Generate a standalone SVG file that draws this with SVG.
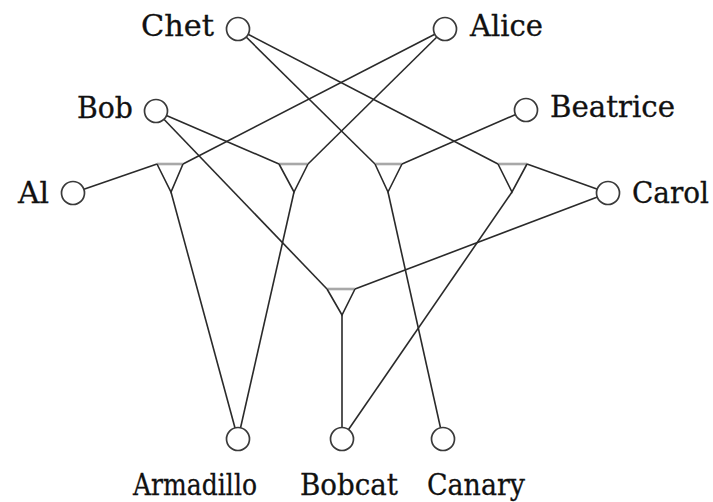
<svg xmlns="http://www.w3.org/2000/svg" width="713" height="502" viewBox="0 0 713 502">
<style>
.e{stroke:#2a2a2a;stroke-width:1.6;fill:none}
.n{stroke:#3a3a3a;stroke-width:1.7;fill:#fff}
.g{stroke:#2a2a2a;stroke-width:1.6;fill:none;stroke-linejoin:miter}
.gt{stroke:#a8a8a8;stroke-width:2.6}
text{font-family:"DejaVu Serif","Liberation Serif",serif;font-size:29px;fill:#111;stroke:#111;stroke-width:0.3}
</style>
<rect width="713" height="502" fill="#fff"/>
<g id="connectors">
<line class="e" x1="73" y1="193" x2="157" y2="164"/>
<line class="e" x1="445" y1="29" x2="183" y2="164"/>
<line class="e" x1="445" y1="29" x2="308" y2="164"/>
<line class="e" x1="156" y1="111" x2="279" y2="164"/>
<line class="e" x1="156" y1="111" x2="327" y2="289"/>
<line class="e" x1="238" y1="29" x2="375" y2="164"/>
<line class="e" x1="238" y1="29" x2="498" y2="164"/>
<line class="e" x1="526" y1="110" x2="402" y2="164"/>
<line class="e" x1="608" y1="193" x2="527" y2="164"/>
<line class="e" x1="608" y1="193" x2="355" y2="289"/>
<line class="e" x1="171" y1="192" x2="238" y2="439"/>
<line class="e" x1="294" y1="192" x2="238" y2="439"/>
<line class="e" x1="388" y1="192" x2="443" y2="439"/>
<line class="e" x1="512" y1="192" x2="342" y2="439"/>
<line class="e" x1="342" y1="315" x2="342" y2="439"/>
</g>
<g id="gate1"><line class="gt" x1="157" y1="164" x2="183" y2="164"/><polyline class="g" points="157,164 171,192 183,164"/></g>
<g id="gate2"><line class="gt" x1="279" y1="164" x2="308" y2="164"/><polyline class="g" points="279,164 294,192 308,164"/></g>
<g id="gate3"><line class="gt" x1="375" y1="164" x2="402" y2="164"/><polyline class="g" points="375,164 388,192 402,164"/></g>
<g id="gate4"><line class="gt" x1="498" y1="164" x2="527" y2="164"/><polyline class="g" points="498,164 512,192 527,164"/></g>
<g id="gate5"><line class="gt" x1="327" y1="289" x2="355" y2="289"/><polyline class="g" points="327,289 342,315 355,289"/></g>
<g id="chet"><circle class="n" cx="238" cy="29" r="11.5"/><text x="214" y="36" text-anchor="end" textLength="73" lengthAdjust="spacingAndGlyphs">Chet</text></g>
<g id="alice"><circle class="n" cx="445" cy="29" r="11.5"/><text x="470" y="36" textLength="73" lengthAdjust="spacingAndGlyphs">Alice</text></g>
<g id="bob"><circle class="n" cx="156" cy="111" r="11.5"/><text x="133" y="118" text-anchor="end" textLength="56" lengthAdjust="spacingAndGlyphs">Bob</text></g>
<g id="beatrice"><circle class="n" cx="526" cy="110" r="11.5"/><text x="550" y="117" textLength="125" lengthAdjust="spacingAndGlyphs">Beatrice</text></g>
<g id="al"><circle class="n" cx="73" cy="193" r="11.5"/><text x="49" y="203" text-anchor="end" textLength="31" lengthAdjust="spacingAndGlyphs">Al</text></g>
<g id="carol"><circle class="n" cx="608" cy="193" r="11.5"/><text x="632" y="203" textLength="77" lengthAdjust="spacingAndGlyphs">Carol</text></g>
<g id="armadillo"><circle class="n" cx="238" cy="439" r="11.5"/><text x="133" y="495" textLength="124" lengthAdjust="spacingAndGlyphs">Armadillo</text></g>
<g id="bobcat"><circle class="n" cx="342" cy="439" r="11.5"/><text x="300" y="495" textLength="98" lengthAdjust="spacingAndGlyphs">Bobcat</text></g>
<g id="canary"><circle class="n" cx="443" cy="439" r="11.5"/><text x="427" y="495" textLength="98" lengthAdjust="spacingAndGlyphs">Canary</text></g>
</svg>
